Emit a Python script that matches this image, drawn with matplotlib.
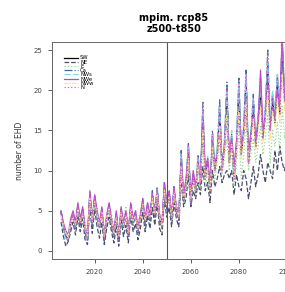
import numpy as np
import matplotlib
matplotlib.use('Agg')
import matplotlib.pyplot as plt

years = np.arange(2006, 2101)

SW = [4.8, 3.0, 1.8, 1.5, 3.5, 4.5, 3.0, 5.5, 3.5, 5.0,
      2.5, 1.5, 7.0, 3.5, 6.5, 4.5, 3.0, 5.0, 1.5, 4.0,
      5.5, 3.5, 2.0, 4.5, 1.5, 5.0, 3.0, 4.5, 2.0, 5.5,
      3.5, 4.5, 2.5, 4.0, 6.0, 3.5, 5.5, 4.0, 7.0, 4.5,
      7.5, 4.0, 3.0, 8.0, 5.5, 7.0, 4.0, 7.5, 5.0, 4.0,
      11.5, 6.5, 8.0, 12.5, 6.0, 9.0, 7.5, 11.0, 8.5, 17.0,
      9.0, 11.0, 7.5, 14.0, 10.0, 12.0, 17.5, 10.0, 13.0, 19.5,
      11.0, 14.0, 9.0, 13.0, 20.0, 12.0, 15.0, 21.0, 11.0, 14.0,
      18.5, 13.0, 16.0, 20.0, 14.0, 17.0, 23.0, 15.0, 19.0, 16.0,
      21.0, 17.0, 25.0, 19.0, 22.0]
NE = [3.6, 1.8, 0.6, 1.2, 2.4, 3.6, 2.0, 4.2, 2.4, 4.0,
      1.4, 0.8, 5.6, 2.2, 5.2, 3.0, 1.6, 3.6, 0.8, 2.8,
      4.2, 2.4, 1.0, 3.2, 0.6, 3.8, 1.8, 3.2, 1.0, 4.4,
      2.4, 3.4, 1.4, 2.8, 4.8, 2.4, 4.4, 2.8, 5.4, 3.2,
      6.0, 2.8, 2.0, 6.4, 4.2, 5.4, 3.0, 6.0, 4.0, 3.0,
      9.0, 5.5, 6.5, 9.5, 5.5, 7.5, 6.5, 8.5, 7.0, 10.5,
      7.5, 8.5, 6.0, 10.0, 8.0, 9.0, 10.5, 8.5, 9.5, 10.0,
      9.0, 10.0, 7.0, 9.5, 8.0, 7.5, 10.0, 9.0, 6.5, 8.5,
      10.5, 8.0, 9.5, 12.0, 10.0, 8.5, 11.0, 10.0, 9.0, 12.5,
      10.0, 13.0, 11.0, 10.0, 12.0]
E = [4.0, 3.4, 2.2, 1.4, 3.0, 4.8, 4.0, 4.4, 4.6, 4.2,
     3.6, 2.6, 5.8, 4.8, 5.4, 5.6, 3.0, 4.0, 2.8, 3.6,
     5.8, 4.6, 3.0, 3.6, 2.6, 4.0, 4.2, 5.6, 3.2, 4.4,
     4.6, 4.0, 3.6, 5.0, 5.0, 4.6, 4.6, 5.2, 6.0, 5.6,
     6.4, 5.0, 4.0, 7.0, 6.6, 6.0, 5.0, 6.6, 6.0, 5.0,
     10.0, 6.0, 7.5, 11.0, 6.5, 8.5, 7.0, 10.0, 8.0, 13.0,
     8.0, 10.0, 7.0, 12.0, 9.0, 11.0, 13.5, 9.5, 11.5, 14.0,
     10.0, 12.5, 8.0, 11.0, 15.0, 9.0, 12.0, 16.0, 10.0, 12.0,
     14.0, 11.0, 13.0, 15.5, 12.0, 14.0, 17.0, 11.0, 15.0, 13.0,
     16.0, 12.5, 18.0, 14.0, 16.0]
Ca = [5.0, 3.2, 2.0, 1.2, 3.2, 4.8, 2.8, 5.8, 3.2, 5.2,
      2.2, 1.2, 7.2, 3.2, 6.8, 4.2, 2.8, 5.2, 1.2, 4.2,
      5.8, 3.2, 1.8, 4.8, 1.2, 5.2, 2.8, 4.8, 1.8, 5.8,
      3.2, 4.8, 2.2, 4.2, 6.5, 3.2, 6.0, 3.8, 7.5, 4.2,
      8.0, 3.8, 2.8, 8.5, 5.2, 7.5, 3.8, 8.0, 4.8, 3.8,
      12.5, 6.2, 8.5, 13.5, 5.8, 9.5, 7.2, 12.0, 8.2, 18.5,
      9.2, 11.5, 7.2, 15.0, 10.2, 12.5, 18.8, 10.2, 13.5, 21.0,
      11.2, 14.5, 9.2, 13.5, 21.5, 12.2, 15.5, 22.5, 11.2, 14.5,
      19.5, 13.2, 16.5, 21.5, 14.2, 17.5, 25.0, 15.2, 19.5, 16.5,
      22.0, 17.5, 26.5, 19.5, 23.0]
NWs = [4.6, 2.6, 1.4, 1.6, 3.6, 4.6, 3.2, 5.4, 3.6, 4.8,
       2.6, 1.6, 6.8, 3.6, 6.4, 4.4, 3.2, 5.0, 1.8, 4.0,
       5.4, 3.6, 2.2, 4.4, 1.8, 5.0, 3.2, 4.6, 2.2, 5.4,
       3.6, 4.6, 2.6, 4.2, 6.2, 3.8, 5.8, 4.2, 7.0, 4.8,
       7.8, 4.2, 3.2, 8.2, 5.8, 7.2, 4.2, 7.8, 5.2, 4.2,
       12.0, 6.8, 8.2, 13.0, 6.2, 9.2, 7.8, 11.5, 8.8, 17.5,
       9.5, 11.8, 8.0, 14.5, 10.8, 12.8, 18.0, 10.8, 14.0, 20.0,
       11.8, 15.0, 9.8, 14.0, 20.5, 13.0, 16.0, 21.5, 12.0, 15.0,
       19.0, 14.0, 17.0, 20.5, 15.0, 18.0, 23.5, 16.0, 20.0, 17.5,
       22.0, 18.0, 25.5, 20.0, 23.0]
NWe = [5.0, 3.5, 2.5, 2.0, 4.0, 5.0, 3.5, 6.0, 4.0, 5.5,
       3.0, 2.0, 7.5, 4.0, 7.0, 5.0, 3.5, 5.5, 2.0, 4.5,
       6.0, 4.0, 2.5, 5.0, 2.0, 5.5, 3.5, 5.0, 2.5, 6.0,
       4.0, 5.0, 3.0, 4.5, 6.5, 4.0, 6.0, 4.5, 7.0, 5.0,
       7.5, 4.5, 3.5, 8.5, 6.0, 7.5, 4.5, 8.0, 5.5, 4.5,
       11.0, 7.0, 9.0, 12.0, 7.0, 10.0, 8.0, 10.5, 9.0, 16.0,
       10.0, 11.5, 8.5, 13.0, 11.0, 12.0, 15.0, 11.0, 13.0, 16.5,
       12.0, 14.0, 10.5, 13.5, 17.0, 13.0, 14.5, 18.0, 12.5, 14.5,
       17.0, 14.0, 16.0, 22.5, 15.0, 16.5, 21.0, 15.5, 18.0, 17.0,
       20.0, 17.5, 27.0, 18.5, 21.0]
NWw = [4.4, 3.2, 2.2, 1.8, 3.6, 4.2, 3.2, 5.2, 3.8, 4.6,
       2.8, 1.8, 6.6, 3.8, 6.2, 4.6, 3.2, 4.8, 1.8, 4.2,
       5.2, 3.8, 2.2, 4.2, 1.8, 4.8, 3.2, 4.4, 2.2, 5.2,
       3.8, 4.4, 2.8, 4.0, 5.8, 3.8, 5.2, 4.2, 6.6, 4.6,
       7.2, 4.2, 3.2, 7.6, 5.6, 6.8, 4.2, 7.2, 5.2, 4.2,
       10.5, 6.5, 8.0, 11.5, 6.5, 8.8, 7.5, 10.5, 8.5, 15.0,
       9.0, 10.5, 7.5, 13.0, 10.0, 11.5, 15.5, 10.0, 12.5, 17.0,
       11.0, 13.5, 9.0, 12.5, 17.5, 11.5, 14.0, 18.5, 11.0, 13.5,
       16.5, 12.5, 15.0, 18.0, 13.5, 16.0, 20.0, 14.0, 17.5, 15.5,
       19.0, 16.0, 22.0, 17.5, 20.0]
N = [4.9, 3.3, 1.6, 1.4, 3.3, 4.7, 2.9, 5.6, 3.4, 5.1,
     2.4, 1.3, 7.3, 3.4, 6.6, 4.3, 2.9, 5.1, 1.4, 4.1,
     5.6, 3.4, 1.9, 4.6, 1.4, 5.1, 2.9, 4.6, 1.9, 5.6,
     3.4, 4.6, 2.4, 4.1, 6.2, 3.4, 5.7, 3.9, 7.3, 4.4,
     7.7, 3.9, 2.9, 8.3, 5.4, 7.2, 3.9, 7.7, 4.9, 3.9,
     12.0, 6.4, 8.2, 13.2, 5.9, 9.3, 7.4, 11.5, 8.4, 18.4,
     8.9, 11.3, 7.4, 14.6, 9.9, 12.3, 18.2, 9.9, 13.3, 20.5,
     10.9, 14.3, 8.9, 13.3, 21.0, 11.9, 15.3, 22.0, 10.9, 14.3,
     19.0, 12.9, 16.3, 21.0, 13.9, 17.3, 24.5, 14.9, 19.3, 16.3,
     21.5, 16.9, 26.0, 19.3, 22.5]

labels = ['SW', 'NE', 'E', 'Ca', 'NWs', 'NWe', 'NWw', 'N']
series = [SW, NE, E, Ca, NWs, NWe, NWw, N]
colors = ['black', '#4a5068', '#9ad89a', '#3f6f98', '#7fd8ec', '#b848c8', '#f2e68a', '#d860d0']
styles = ['-', '--', ':', '-.', (0, (5, 2)), '-', (0, (3, 1, 1, 1)), ':']

fig = plt.figure(figsize=(2.85, 2.92), dpi=100)
ax = fig.add_axes([52 / 285, 1 - 259 / 292, 244 / 285, 217 / 292])

# draw all series
for lab, vals, c, ls in zip(labels, series, colors, styles):
    ax.plot(years, vals, color=c, linestyle=ls, linewidth=0.9, label=lab)

ax.axvline(2050, color='#555555', linewidth=0.8)

ax.set_xlim(2002.24, 2103.76)
ax.set_ylim(-1, 26)
ax.set_xticks([2020, 2040, 2060, 2080, 2100])
ax.set_yticks([0, 5, 10, 15, 20, 25])
ax.tick_params(labelsize=5, colors='#444444', length=3, width=0.6, pad=4)
for s in ax.spines.values():
    s.set_color('#666666')
    s.set_linewidth(0.7)

ax.set_title('mpim. rcp85\nz500-t850', fontsize=7, fontweight='bold', pad=7, linespacing=1.15)
ax.set_ylabel('number of EHD', fontsize=5.5, color='#333333', labelpad=7)
ax.set_xlabel('year', fontsize=5.5, color='#333333', labelpad=12)

ax.legend(loc='upper left', bbox_to_anchor=(0.035, 0.955), fontsize=3.8,
          frameon=False, labelspacing=-0.15, handlelength=2.6, handletextpad=0.4,
          borderpad=0.2)

fig.savefig('out.png', dpi=100)
